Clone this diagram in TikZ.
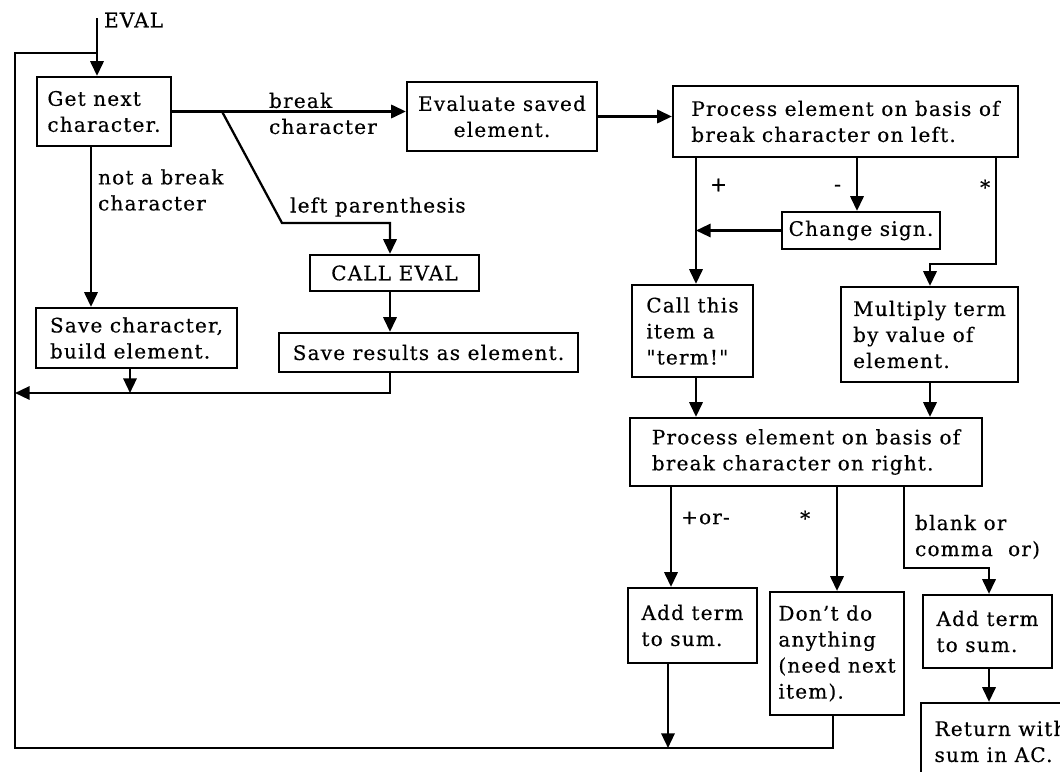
\documentclass[tikz,border=0pt]{standalone}
\usepackage{fontspec}
\setmainfont{DejaVu Serif}[LetterSpace=6, FakeBold=0.4]
\newfontfamily\plainfont{DejaVu Serif}[LetterSpace=6, FakeBold=0.4]
\usetikzlibrary{arrows.meta, calc}

\begin{document}
\begin{tikzpicture}[x=0.75pt, y=-0.75pt,
    line width=1.7pt,
    >={Triangle[length=11pt, width=10pt]},
    every node/.style={font=\fontsize{15}{19.5}\selectfont},
    blk/.style 2 args={draw, line width=1.7pt, align=left, inner sep=0pt,
        minimum width=#1*0.75pt, minimum height=#2*0.75pt},
    lbl/.style={anchor=west, align=left, inner sep=0pt}]
    \useasboundingbox (0,0) rectangle (1060,771);
    \clip (0,0) rectangle (1060,771);

    % 左側: 文字の読み込み
    \node[blk={134}{69}] (get) at (104,111.5) {Get next\\character.};
    \node[blk={201}{60}] (savec) at (136.5,338) {Save character,\\build element.};
    \node[blk={169}{36}] (calle) at (394.5,273) {CALL EVAL};
    \node[blk={299}{39}] (saver) at (428.5,352.5) {Save results as element.};

    % 上段: 要素の評価
    \node[blk={190}{69}, align=center] (evals) at (502,116.5) {Evaluate saved\\element.};
    \node[blk={345}{71}] (procl) at (845.5,121.5) {Process element on basis of\\break character on left.};
    \node[blk={158}{37}] (chg) at (861,230.5) {Change sign.};
    \node[blk={121}{92}] (call) at (692.5,331) {Call this\\item a\\{\plainfont"term!"}};
    \node[blk={177}{95}] (mult) at (929.5,334.5) {Multiply term\\by value of\\element.};

    % 下段: 右の区切り文字
    \node[blk={352}{68}] (procr) at (806,452) {Process element on basis of\\break character on right.};
    \node[blk={129}{75}] (add1) at (692.5,625.5) {Add term\\to sum.};
    \node[blk={134}{123}] (dont) at (837,653.5) {Don't do\\anything\\(need next\\item).};
    \node[blk={129}{73}] (add2) at (987.5,631.5) {Add term\\to sum.};
    \node[blk={159}{77}] (ret) at (1000.5,741.5) {Return with\\sum in AC.};

    % ラベル
    \node[lbl] (leval) at (103,20) {EVAL};
    \node[lbl] (lbrk) at (268,113.5) {break\\character};
    \node[lbl] (lnot) at (97,190) {not a break\\character};
    \node[lbl] (lpar) at (289,207) {left parenthesis};
    \node[lbl] (lplus) at (709,185) {+};
    \node[lbl] (lminus) at (833,188) {-};
    \node[lbl] (lstar) at (979,187) {*};
    \node[lbl] (lpm) at (680,518) {+or-};
    \node[lbl] (lstar2) at (799,518) {*};
    \node[lbl] (lblank) at (914,537) {blank or\\comma~~or)};

    % 折れ点と縦の通り
    \coordinate (in) at (97,18);
    \coordinate (lt) at (15,53);
    \coordinate (lb) at (15,748);
    \coordinate (rt) at (15,393);
    \coordinate (br) at (222,111.5);
    \coordinate (lp) at (282,223);
    \coordinate (sk) at (996,264);
    \coordinate (bk) at (904,568);
    \coordinate (xg) at (91,0);
    \coordinate (xs) at (130,0);
    \coordinate (xr) at (390,0);
    \coordinate (xp) at (696,0);
    \coordinate (xm) at (857,0);
    \coordinate (xt) at (930,0);
    \coordinate (xa) at (671,0);
    \coordinate (xd) at (837,0);
    \coordinate (xb) at (989,0);
    \coordinate (xo) at (668,0);
    \coordinate (xdo) at (833,0);

    % ループ
    \draw[->] (in) -- (in |- get.north);
    \draw (lt -| in) -- (lt) -- (lb) -| (xdo |- dont.south);
    \draw[->] (xo |- add1.south) -- (xo |- lb);

    % 左側の矢印
    \draw[->] (get.east) -- (get.east -| evals.west);
    \draw[->] (br) -- (lp) -| (xr |- calle.north);
    \draw[->] (xg |- get.south) -- (xg |- savec.north);
    \draw[->] (xs |- savec.south) -- (xs |- rt);
    \draw[->] (xr |- calle.south) -- (xr |- saver.north);
    \draw[->] (xr |- saver.south) |- (rt);

    % 右側の矢印
    \draw[->] (evals.east) -- (evals.east -| procl.west);
    \draw[->] (xp |- procl.south) -- (xp |- call.north);
    \draw[->] (xm |- procl.south) -- (xm |- chg.north);
    \draw[->] (chg.west) -- (chg.west -| xp);
    \draw[->] (sk |- procl.south) -- (sk) -| (xt |- mult.north);
    \draw[->] (xp |- call.south) -- (xp |- procr.north);
    \draw[->] (xt |- mult.south) -- (xt |- procr.north);
    \draw[->] (xa |- procr.south) -- (xa |- add1.north);
    \draw[->] (xd |- procr.south) -- (xd |- dont.north);
    \draw[->] (bk |- procr.south) -- (bk) -| (xb |- add2.north);
    \draw[->] (xb |- add2.south) -- (xb |- ret.north);
\end{tikzpicture}
\end{document}
